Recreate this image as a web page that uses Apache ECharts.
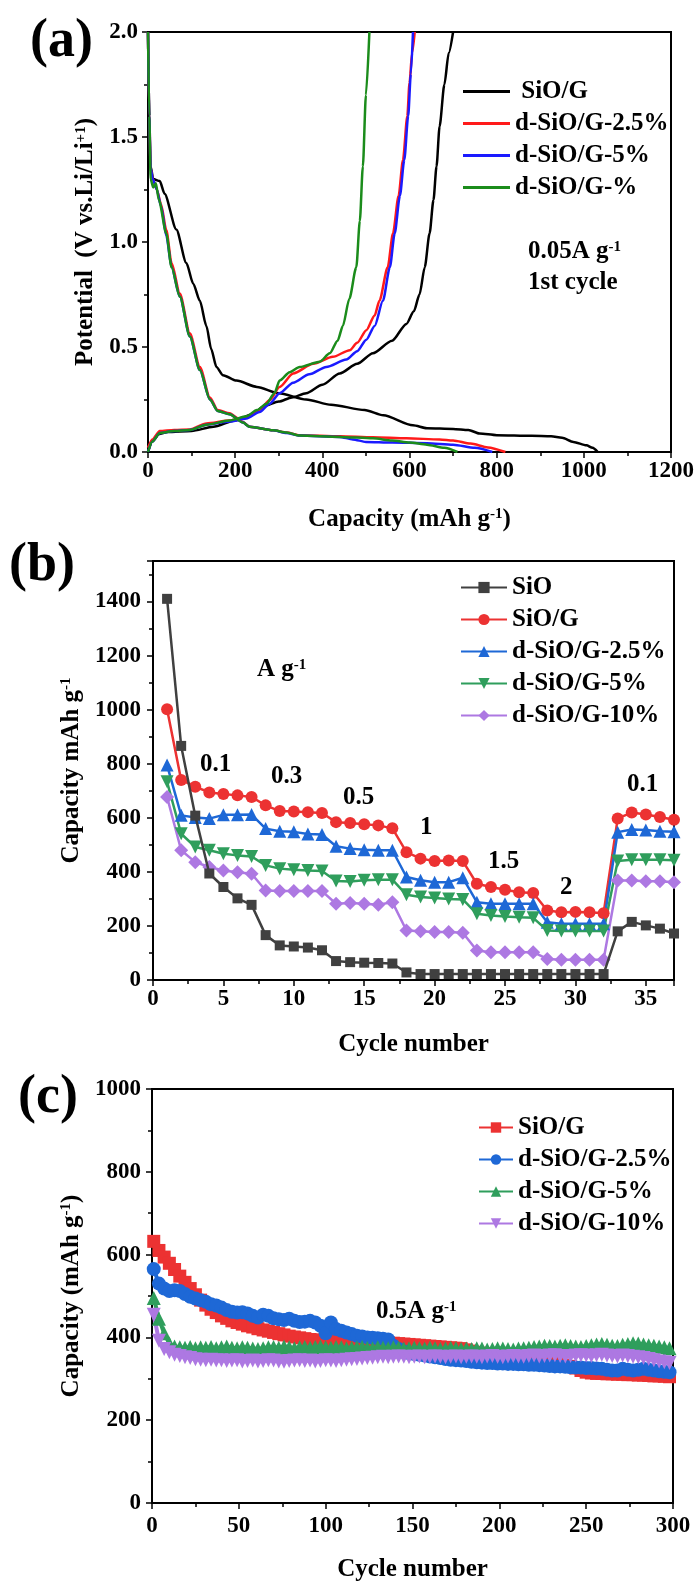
<!DOCTYPE html>
<html><head><meta charset="utf-8">
<script src="https://cdn.jsdelivr.net/npm/echarts@6.0.0/dist/echarts.min.js"></script>
<style>html,body{margin:0;padding:0;background:#fff}#c{width:695px;height:1589px}</style>
</head><body><div id="c"></div><script>
// ---------- Panel (a): 1st cycle charge/discharge ----------
const aTicksX = [0, 200, 400, 600, 800, 1000, 1200];
const aTicksY = [0.0, 0.5, 1.0, 1.5, 2.0];
const aBlackDisCap = [0, 3, 6, 12, 27, 38, 65, 88, 104, 119, 134, 145, 157, 172, 203, 250, 300, 363, 420, 497, 540, 608, 640, 700, 735, 761, 800, 880, 925, 950, 976, 1006, 1020, 1032];
const aBlackDisV   = [2.0, 1.55, 1.36, 1.30, 1.29, 1.23, 1.06, 0.90, 0.80, 0.72, 0.60, 0.49, 0.405, 0.366, 0.34, 0.31, 0.28, 0.25, 0.225, 0.20, 0.175, 0.127, 0.113, 0.11, 0.105, 0.088, 0.08, 0.077, 0.075, 0.068, 0.048, 0.032, 0.02, 0.0];
const aBlackChCap  = [0, 10, 25, 45, 100, 150, 200, 240, 268, 300, 330, 363, 400, 440, 480, 516, 560, 593, 610, 623, 635, 646, 655, 662, 669, 680, 690, 700];
const aBlackChV    = [0, 0.05, 0.085, 0.095, 0.1, 0.12, 0.15, 0.18, 0.22, 0.24, 0.26, 0.28, 0.32, 0.374, 0.42, 0.47, 0.53, 0.61, 0.67, 0.75, 0.88, 1.04, 1.2, 1.36, 1.55, 1.75, 1.9, 2.0];
const aRedDisCap = [0, 3, 6, 11, 20, 30, 42, 54, 73, 96, 119, 142, 160, 187, 218, 233, 287, 318, 348, 440, 516, 593, 669, 700, 740, 780, 820];
const aRedDisV   = [2.0, 1.6, 1.35, 1.30, 1.25, 1.18, 1.057, 0.90, 0.755, 0.565, 0.405, 0.26, 0.20, 0.185, 0.143, 0.12, 0.103, 0.093, 0.08, 0.075, 0.07, 0.065, 0.06, 0.055, 0.04, 0.022, 0.0];
const aRedChCap  = [0, 10, 27, 60, 96, 134, 187, 226, 256, 279, 302, 333, 379, 424, 463, 480, 501, 520, 531, 550, 562, 575, 585, 595, 600, 606, 612];
const aRedChV    = [0.02, 0.06, 0.1, 0.105, 0.107, 0.136, 0.15, 0.167, 0.2, 0.247, 0.31, 0.374, 0.42, 0.453, 0.485, 0.52, 0.58, 0.65, 0.72, 0.88, 1.04, 1.22, 1.39, 1.6, 1.757, 1.9, 2.0];
const aBlueDisCap = [0, 3, 6, 11, 20, 30, 42, 54, 73, 96, 119, 142, 160, 187, 218, 233, 287, 318, 348, 440, 470, 500, 560, 640, 700, 750, 790];
const aBlueDisV   = [2.0, 1.6, 1.35, 1.30, 1.25, 1.17, 1.03, 0.88, 0.74, 0.55, 0.39, 0.25, 0.195, 0.18, 0.14, 0.12, 0.103, 0.09, 0.078, 0.072, 0.06, 0.048, 0.045, 0.042, 0.035, 0.02, 0.0];
const aBlueChCap  = [0, 10, 27, 60, 96, 134, 187, 226, 256, 279, 302, 333, 370, 409, 455, 480, 501, 520, 539, 555, 566, 578, 588, 597, 603, 608];
const aBlueChV    = [0.0, 0.05, 0.09, 0.1, 0.105, 0.13, 0.145, 0.16, 0.19, 0.23, 0.28, 0.33, 0.37, 0.405, 0.44, 0.48, 0.535, 0.6, 0.72, 0.88, 1.04, 1.22, 1.39, 1.6, 1.8, 2.0];
const aGreenDisCap = [0, 3, 6, 12, 18, 25, 42, 54, 73, 96, 119, 142, 160, 187, 218, 233, 287, 318, 348, 440, 516, 560, 600, 640, 680, 710];
const aGreenDisV   = [2.0, 1.6, 1.3, 1.26, 1.28, 1.2, 1.04, 0.88, 0.74, 0.55, 0.39, 0.25, 0.195, 0.18, 0.14, 0.12, 0.103, 0.093, 0.078, 0.072, 0.065, 0.055, 0.045, 0.035, 0.02, 0.0];
const aGreenChCap  = [0, 10, 27, 60, 96, 134, 187, 226, 250, 272, 290, 302, 325, 348, 394, 417, 435, 447, 462, 478, 486, 493, 500, 508];
const aGreenChV    = [0.0, 0.05, 0.09, 0.1, 0.105, 0.13, 0.15, 0.17, 0.2, 0.23, 0.28, 0.34, 0.38, 0.405, 0.43, 0.47, 0.53, 0.6, 0.73, 0.88, 1.1, 1.36, 1.7, 2.0];

// ---------- Panel (b): rate performance ----------
const bCycles = [1,2,3,4,5,6,7,8,9,10,11,12,13,14,15,16,17,18,19,20,21,22,23,24,25,26,27,28,29,30,31,32,33,34,35,36,37];
const bSiO  = [1410, 866, 608, 394, 344, 302, 278, 166, 128, 124, 120, 110, 70, 66, 64, 63, 61, 28, 22, 22, 22, 22, 22, 22, 22, 22, 22, 22, 22, 22, 22, 22, 180, 215, 202, 190, 172];
const bSiOG = [1002, 740, 715, 694, 688, 683, 677, 646, 625, 623, 621, 618, 584, 581, 576, 572, 561, 473, 449, 440, 442, 440, 356, 344, 334, 325, 322, 257, 251, 252, 251, 247, 597, 620, 612, 603, 593];
const bD25  = [795, 609, 601, 597, 611, 611, 612, 560, 550, 548, 540, 538, 495, 486, 482, 480, 480, 381, 369, 362, 362, 378, 288, 282, 282, 282, 282, 214, 208, 208, 208, 208, 547, 557, 555, 550, 548];
const bD5   = [733, 541, 492, 480, 467, 461, 457, 424, 412, 408, 405, 403, 366, 364, 369, 371, 371, 315, 307, 303, 300, 298, 245, 239, 235, 232, 230, 183, 181, 181, 181, 181, 440, 445, 445, 445, 443];
const bD10  = [677, 480, 436, 418, 405, 399, 393, 331, 329, 329, 329, 329, 282, 285, 282, 278, 288, 183, 180, 178, 178, 175, 109, 103, 103, 103, 103, 78, 75, 75, 75, 75, 368, 368, 365, 365, 362];

// ---------- Panel (c): cycling at 0.5 A/g (every 3rd cycle) ----------
const cCycles = []; for (let i = 0; i < 100; i++) cCycles.push(1 + 3 * i);
const cSiOG = [632, 610, 594, 579, 564, 548, 533, 518, 503, 490,
 478, 468, 460, 452, 446, 440, 436, 432, 428, 425,
 421, 418, 415, 412, 409, 406, 403, 401, 399, 397,
 395, 394, 393, 392, 392, 391, 391, 390, 390, 390,
 390, 389, 389, 388, 388, 387, 386, 385, 384, 383,
 382, 381, 380, 379, 378, 377, 376, 375, 374, 373,
 370, 367, 364, 362, 360, 358, 356, 355, 353, 352,
 350, 349, 348, 346, 344, 342, 340, 338, 336, 333,
 330, 326, 320, 316, 314, 313, 313, 312, 312, 311,
 311, 310, 310, 309, 309, 308, 307, 307, 306, 305];
const cD25 = [565, 530, 518, 512, 514, 512, 505, 498, 494, 490,
 486, 480, 477, 472, 466, 462, 460, 461, 458, 452,
 448, 455, 452, 446, 444, 442, 445, 440, 437, 438,
 440, 436, 428, 410, 436, 420, 416, 412, 408, 404,
 402, 400, 399, 398, 397, 395, 380, 372, 366, 362,
 360, 358, 356, 354, 352, 350, 348, 346, 345, 344,
 343, 341, 340, 339, 338, 338, 337, 337, 336, 336,
 335, 335, 334, 334, 333, 332, 331, 330, 330, 329,
 328, 327, 327, 326, 326, 325, 324, 322, 320, 320,
 324, 322, 320, 322, 324, 322, 320, 318, 317, 316];
const cD5 = [495, 445, 410, 385, 378, 376, 375, 377, 374, 376,
 375, 377, 374, 376, 378, 375, 374, 376, 375, 373,
 372, 374, 376, 377, 375, 378, 376, 374, 376, 377,
 375, 377, 378, 376, 375, 377, 376, 374, 375, 376,
 377, 375, 374, 376, 375, 374, 376, 375, 373, 374,
 375, 374, 373, 375, 374, 372, 373, 375, 374, 372,
 373, 372, 374, 373, 371, 372, 374, 373, 372, 371,
 373, 374, 375, 377, 378, 380, 379, 378, 380, 381,
 379, 378, 377, 379, 381, 383, 384, 382, 380, 379,
 382, 384, 386, 385, 383, 381, 380, 378, 376, 374];
const cD10 = [455, 392, 372, 364, 358, 355, 352, 350, 347, 346,
 345, 346, 344, 345, 343, 344, 345, 342, 343, 344,
 342, 343, 345, 344, 342, 341, 343, 344, 345, 343,
 344, 342, 343, 345, 344, 343, 345, 346, 347, 348,
 349, 350, 351, 352, 353, 352, 353, 354, 353, 352,
 353, 354, 352, 353, 354, 353, 352, 353, 354, 352,
 353, 354, 353, 352, 354, 355, 353, 352, 354, 355,
 354, 353, 355, 356, 354, 355, 356, 357, 355, 354,
 355, 356, 357, 356, 355, 357, 358, 356, 355, 354,
 356, 355, 353, 352, 350, 348, 345, 342, 340, 338];

// ---------- styling ----------
const F = '"Liberation Serif","Times New Roman","DejaVu Serif",serif';
const zip = (x, y) => x.map((v, i) => [v, y[i]]);
const supStyle = { fontSize: 15, fontWeight: 'bold', fontFamily: F, color: '#000', verticalAlign: 'top' };
const nameStyle = { fontSize: 25, fontWeight: 'bold', fontFamily: F, color: '#000', rich: { sup: supStyle } };
const labelStyle = { color: '#000', fontSize: 23, fontWeight: 'bold', fontFamily: F, formatter: v => String(v) };
function axis(idx, o) {
  return Object.assign({
    type: 'value', gridIndex: idx,
    axisLine: { show: true, onZero: false, lineStyle: { color: '#000', width: 2 } },
    axisTick: { show: true, inside: false, length: 6, lineStyle: { color: '#000', width: 1.5 } },
    minorTick: { show: true, splitNumber: 2, length: 4, lineStyle: { color: '#000', width: 1.5 } },
    splitLine: { show: false }, minorSplitLine: { show: false },
    nameLocation: 'middle', nameTextStyle: nameStyle
  }, o);
}
const gridBase = { show: true, borderColor: '#000', borderWidth: 2, backgroundColor: 'rgba(0,0,0,0)', containLabel: false, outerBoundsMode: 'none' };

const RED = '#ec3232', BLUE = '#1e68d6', GREEN = '#2f9e5c', PURPLE = '#ad78e2', GRAY = '#404040';
const invTri = 'path://M0,0 L10,0 L5,9 Z';

const series = [];
function aLine(name, color, cap, v, z) {
  series.push({ type: 'line', name, xAxisIndex: 0, yAxisIndex: 0, data: zip(cap, v), symbol: 'none', showSymbol: false,
    smooth: 0.25, smoothMonotone: 'x', lineStyle: { width: 2.5, color }, itemStyle: { color }, z });
}
aLine('a: SiO/G', '#000', aBlackDisCap, aBlackDisV, 2);
aLine('a: SiO/G', '#000', aBlackChCap, aBlackChV, 2);
aLine('a:d-SiO/G-2.5%', '#ff1a1a', aRedDisCap, aRedDisV, 3);
aLine('a:d-SiO/G-2.5%', '#ff1a1a', aRedChCap, aRedChV, 3);
aLine('a:d-SiO/G-5%', '#1a1aff', aBlueDisCap, aBlueDisV, 4);
aLine('a:d-SiO/G-5%', '#1a1aff', aBlueChCap, aBlueChV, 4);
aLine('a:d-SiO/G-%', '#1b8c1b', aGreenDisCap, aGreenDisV, 5);
aLine('a:d-SiO/G-%', '#1b8c1b', aGreenChCap, aGreenChV, 5);

function bLine(name, color, vals, symbol, size, z) {
  series.push({ type: 'line', name, xAxisIndex: 1, yAxisIndex: 1, data: zip(bCycles, vals), symbol, symbolSize: size, showSymbol: true,
    lineStyle: { width: 2.5, color }, itemStyle: { color }, z });
}
bLine('b:SiO', GRAY, bSiO, 'rect', 10, 4);
bLine('b:SiO/G', RED, bSiOG, 'circle', 12, 3);
bLine('b:d-SiO/G-2.5%', BLUE, bD25, 'triangle', 13, 3);
bLine('b:d-SiO/G-5%', GREEN, bD5, invTri, 13, 3);
bLine('b:d-SiO/G-10%', PURPLE, bD10, 'diamond', 14, 3);

function cLine(name, color, vals, symbol, size) {
  series.push({ type: 'line', name, xAxisIndex: 2, yAxisIndex: 2, data: zip(cCycles, vals), symbol, symbolSize: size, showSymbol: true,
    lineStyle: { width: 4, color }, itemStyle: { color } });
}
cLine('c:SiO/G', RED, cSiOG, 'rect', 13);
cLine('c:d-SiO/G-2.5%', BLUE, cD25, 'circle', 14);
cLine('c:d-SiO/G-5%', GREEN, cD5, 'triangle', 14);
cLine('c:d-SiO/G-10%', PURPLE, cD10, invTri, 14);

const legendText = { fontSize: 25, fontWeight: 'bold', fontFamily: F, color: '#000' };
const fmt = n => n.slice(2);

function txt(x, y, text, size) {
  return { type: 'text', x, y, z: 100, style: { text, fill: '#000', fontSize: size, fontWeight: 'bold', fontFamily: F,
    align: 'left', verticalAlign: 'middle', rich: { sup: { fontSize: 15, fontWeight: 'bold', fontFamily: F, fill: '#000', verticalAlign: 'top' } } } };
}

const option = {
  animation: false,
  backgroundColor: '#fff',
  grid: [
    Object.assign({ left: 148, top: 32, width: 523, height: 420 }, gridBase),
    Object.assign({ left: 153, top: 561, width: 521, height: 419 }, gridBase),
    Object.assign({ left: 152, top: 1089, width: 521, height: 414 }, gridBase)
  ],
  xAxis: [
    axis(0, { min: aTicksX[0], max: aTicksX[aTicksX.length - 1], interval: 200, name: 'Capacity (mAh g{sup|-1})', nameGap: 55,
      axisLabel: Object.assign({}, labelStyle, { margin: 8 }) }),
    axis(1, { min: 0, max: 37, interval: 5, name: 'Cycle number', nameGap: 52,
      axisLabel: Object.assign({}, labelStyle, { margin: 8, showMaxLabel: false }) }),
    axis(2, { min: 0, max: 300, interval: 50, name: 'Cycle number', nameGap: 54,
      axisLabel: Object.assign({}, labelStyle, { margin: 12 }) })
  ],
  yAxis: [
    axis(0, { min: aTicksY[0], max: aTicksY[aTicksY.length - 1], interval: 0.5, name: 'Potential  (V vs.Li/Li{sup|+1})', nameGap: 49,
      axisLabel: Object.assign({}, labelStyle, { margin: 10, formatter: v => v.toFixed(1) }) }),
    axis(1, { min: 0, max: 1550, interval: 200, name: 'Capacity mAh g{sup|-1}', nameGap: 63,
      axisLabel: Object.assign({}, labelStyle, { margin: 12, showMaxLabel: false }) }),
    axis(2, { min: 0, max: 1000, interval: 200, name: 'Capacity (mAh g{sup|-1})', nameGap: 66,
      axisLabel: Object.assign({}, labelStyle, { margin: 11 }) })
  ],
  legend: [
    { data: ['a: SiO/G', 'a:d-SiO/G-2.5%', 'a:d-SiO/G-5%', 'a:d-SiO/G-%'], formatter: fmt, orient: 'vertical', left: 458, top: 74,
      icon: 'rect', itemWidth: 47, itemHeight: 3, itemGap: 7, textStyle: legendText, selectedMode: false },
    { data: ['b:SiO', 'b:SiO/G', 'b:d-SiO/G-2.5%', 'b:d-SiO/G-5%', 'b:d-SiO/G-10%'], formatter: fmt, orient: 'vertical', left: 455, top: 570,
      itemWidth: 46, itemHeight: 14, itemGap: 7, textStyle: legendText, selectedMode: false },
    { data: ['c:SiO/G', 'c:d-SiO/G-2.5%', 'c:d-SiO/G-5%', 'c:d-SiO/G-10%'], formatter: fmt, orient: 'vertical', left: 473, top: 1110,
      itemWidth: 34, itemHeight: 13, itemGap: 7, textStyle: legendText, selectedMode: false }
  ],
  graphic: [
    txt(30, 42, '(a)', 54), txt(9, 566, '(b)', 54), txt(18, 1098, '(c)', 54),
    txt(528, 252, '0.05A g{sup|-1}', 25), txt(528, 283, '1st cycle', 25),
    txt(257, 670, 'A g{sup|-1}', 25),
    txt(200, 765, '0.1', 25), txt(271, 777, '0.3', 25), txt(343, 798, '0.5', 25), txt(420, 828, '1', 25),
    txt(488, 862, '1.5', 25), txt(560, 888, '2', 25), txt(627, 785, '0.1', 25),
    txt(376, 1312, '0.5A g{sup|-1}', 25)
  ],
  series
};
const chart = echarts.init(document.getElementById('c'), null, { renderer: 'canvas' });
chart.setOption(option);
</script></body></html>
